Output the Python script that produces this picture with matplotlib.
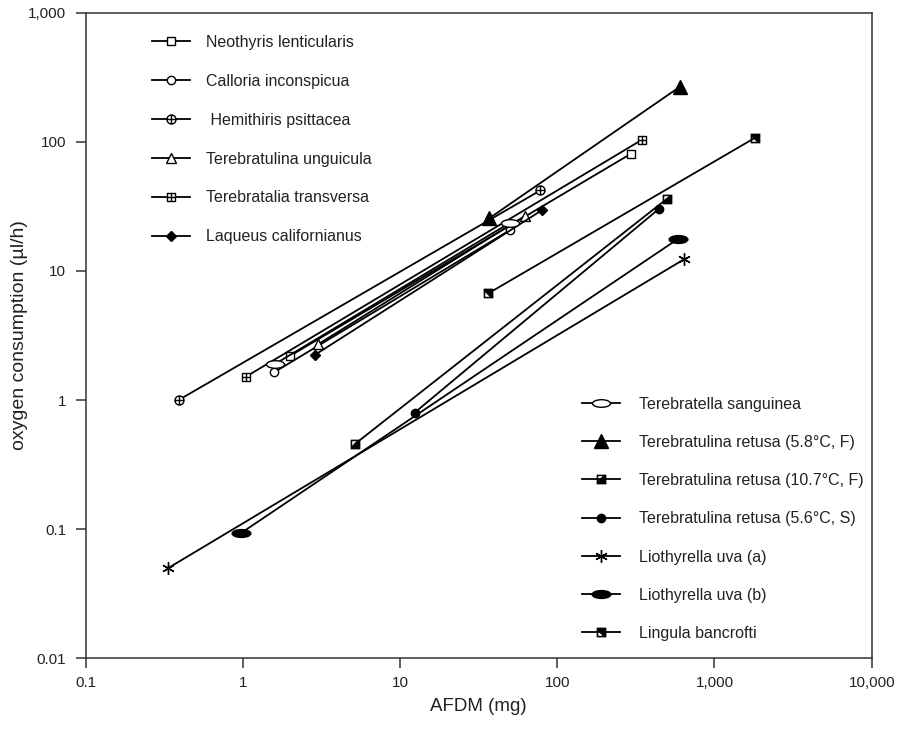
import matplotlib
matplotlib.use('Agg')
import matplotlib.pyplot as plt
from matplotlib.path import Path
from matplotlib.ticker import NullLocator
import numpy as np

plt.rcParams['font.family'] = ['Liberation Sans', 'DejaVu Sans']

# end points of each fitted line: AFDM (mg) vs oxygen consumption (ul/h)
neothyris_x = [2.0, 295]
neothyris_y = [2.2, 81]
calloria_x = [1.58, 50]
calloria_y = [1.64, 20.7]
hemithiris_x = [0.39, 78]
hemithiris_y = [1.0, 42]
unguicula_x = [3.0, 62]
unguicula_y = [2.7, 26.6]
transversa_x = [1.04, 347]
transversa_y = [1.51, 104]
laqueus_x = [2.86, 80]
laqueus_y = [2.23, 29.6]

sanguinea_x = [1.6, 50]
sanguinea_y = [1.9, 23.6]
retusa58_x = [36.8, 600]
retusa58_y = [25.5, 266]
retusa107_x = [5.2, 500]
retusa107_y = [0.46, 36.3]
retusa56_x = [12.4, 444]
retusa56_y = [0.80, 30.3]
liothyrella_a_x = [0.335, 640]
liothyrella_a_y = [0.05, 12.3]
liothyrella_b_x = [0.97, 590]
liothyrella_b_y = [0.093, 17.8]
lingula_x = [36.4, 1800]
lingula_y = [6.7, 107]

x_ticks = [0.1, 1, 10, 100, 1000, 10000]
x_labels = ['0.1', '1', '10', '100', '1,000', '10,000']
y_ticks = [0.01, 0.1, 1, 10, 100, 1000]
y_labels = ['0.01', '0.1', '1', '10', '100', '1,000']

M, L, C = Path.MOVETO, Path.LINETO, Path.CLOSEPOLY

# custom marker shapes
circ = Path.unit_circle()
hbar = Path([[-1, 0], [1, 0]], [M, L])
vbar = Path([[0, -1], [0, 1]], [M, L])
sq = Path([[-1, -1], [1, -1], [1, 1], [-1, 1], [-1, -1]], [M, L, L, L, C])
circle_plus = Path.make_compound_path(circ, hbar, vbar)
square_plus = Path.make_compound_path(sq, hbar, vbar)
ellipse = Path(circ.vertices * [1, 0.42], circ.codes)
# black square with a white notch (upper left / lower left), notch wound the other way
notch_ul = Path([[-0.8, 0.8], [0.45, 0.8], [-0.8, -0.45], [-0.8, 0.8]], [M, L, L, C])
notch_ll = Path([[-0.8, -0.8], [-0.8, 0.45], [0.45, -0.8], [-0.8, -0.8]], [M, L, L, C])
sq_notch_ul = Path.make_compound_path(sq, notch_ul)
sq_notch_ll = Path.make_compound_path(sq, notch_ll)

fig = plt.figure(figsize=(9.02, 7.37), dpi=100)
ax = fig.add_axes([0.095, 0.1068, 0.8714, 0.876])

lw = 1.3
def draw(x, y, label, marker, ms, filled, mew=1.0):
    line, = ax.plot(x, y, color='black', lw=lw, marker=marker, ms=ms,
                    mfc='black' if filled else 'white', mec='black', mew=mew,
                    label=label)
    return line

h1 = [
    draw(neothyris_x, neothyris_y, 'Neothyris lenticularis', 's', 5.5, False),
    draw(calloria_x, calloria_y, 'Calloria inconspicua', 'o', 6, False),
    draw(hemithiris_x, hemithiris_y, ' Hemithiris psittacea', circle_plus, 6.5, False),
    draw(unguicula_x, unguicula_y, 'Terebratulina unguicula', '^', 7.5, False),
    draw(transversa_x, transversa_y, 'Terebratalia transversa', square_plus, 6, False),
    draw(laqueus_x, laqueus_y, 'Laqueus californianus', 'D', 5, True),
]
h2 = [
    draw(sanguinea_x, sanguinea_y, 'Terebratella sanguinea', ellipse, 13, False),
    draw(retusa58_x, retusa58_y, 'Terebratulina retusa (5.8°C, F)', '^', 10, True),
    draw(retusa107_x, retusa107_y, 'Terebratulina retusa (10.7°C, F)', sq_notch_ul, 6.5, True, 0.5),
    draw(retusa56_x, retusa56_y, 'Terebratulina retusa (5.6°C, S)', 'o', 6, True),
    draw(liothyrella_a_x, liothyrella_a_y, 'Liothyrella uva (a)', (6, 2, 0), 9, False),
    draw(liothyrella_b_x, liothyrella_b_y, 'Liothyrella uva (b)', ellipse, 13.5, True),
    draw(lingula_x, lingula_y, 'Lingula bancrofti', sq_notch_ll, 6.5, True, 0.5),
]

ax.set_xscale('log')
ax.set_yscale('log')
ax.set_xlim(0.1, 10000)
ax.set_ylim(0.01, 1000)
ax.set_xticks(x_ticks)
ax.set_xticklabels(x_labels)
ax.set_yticks(y_ticks)
ax.set_yticklabels(y_labels)
ax.xaxis.set_minor_locator(NullLocator())
ax.yaxis.set_minor_locator(NullLocator())
ax.tick_params(axis='both', direction='out', length=7, width=1.1, color='#333333',
               labelsize=11, labelcolor='#222222')
ax.tick_params(axis='y', pad=7)
ax.tick_params(axis='x', pad=5.5)
for s in ax.spines.values():
    s.set_linewidth(1.1)
    s.set_color('#333333')

ax.set_xlabel('AFDM (mg)', fontsize=13.5, labelpad=6, color='#222222')
ax.set_ylabel('oxygen consumption (µl/h)', fontsize=14, labelpad=0, color='#222222')

leg_kw = dict(frameon=False, fontsize=11.5, handlelength=2.4,
              borderpad=0, borderaxespad=0, numpoints=1,
              loc='upper left', labelcolor='#222222')
leg1 = ax.legend(handles=h1, bbox_to_anchor=(0.0844, 0.966), labelspacing=1.5,
                 handletextpad=0.95, **leg_kw)
ax.add_artist(leg1)
ax.legend(handles=h2, bbox_to_anchor=(0.6314, 0.4054), labelspacing=1.455,
          handletextpad=1.14, **leg_kw)

fig.savefig('out.png', dpi=100)
